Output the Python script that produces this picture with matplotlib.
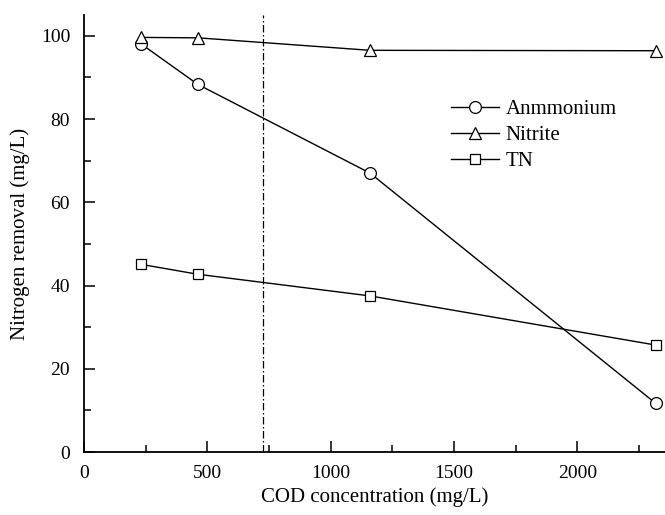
import numpy as np
import matplotlib.pyplot as plt
from matplotlib.ticker import MultipleLocator

plt.rcParams['font.family'] = ['Liberation Serif', 'DejaVu Serif']

cod = [230, 462, 1160, 2318]
ammonium = [98.1, 88.3, 67.0, 11.7]
nitrite = [99.6, 99.5, 96.5, 96.4]
tn = [45.1, 42.7, 37.5, 25.7]
cod_marker_line = 727

fig = plt.figure(figsize=(6.65, 5.15), dpi=100)
ax = fig.add_axes([0.1263, 0.1223, 0.8737, 0.8487])

series = [('Anmmonium', ammonium, 'o'), ('Nitrite', nitrite, '^'), ('TN', tn, 's')]
for name, vals, mk in series:
    ms = 8.5 if mk != 's' else 7.5
    ax.plot(cod, vals, color='black', lw=1.0, marker=mk, ms=ms,
            mfc='white', mec='black', mew=0.9, clip_on=False, zorder=3, label=name)

ax.axvline(cod_marker_line, color='black', lw=0.9, linestyle=(0, (6, 2, 1.2, 2)))

ax.set_xlim(0, 2356)
ax.set_ylim(0, 105)
ax.xaxis.set_major_locator(MultipleLocator(500))
ax.xaxis.set_minor_locator(MultipleLocator(250))
ax.yaxis.set_major_locator(MultipleLocator(20))
ax.yaxis.set_minor_locator(MultipleLocator(10))
ax.tick_params(which='both', direction='in', top=False, right=False, labelsize=14, width=1.1)
ax.tick_params(which='major', length=8)
ax.tick_params(which='minor', length=5)
ax.tick_params(axis='x', which='major', pad=9)
ax.tick_params(axis='y', which='major', pad=10)
for side in ['top', 'right']:
    ax.spines[side].set_visible(False)
for side in ['left', 'bottom']:
    ax.spines[side].set_linewidth(1.3)

ax.set_xlabel('COD concentration (mg/L)', fontsize=15, labelpad=4)
ax.set_ylabel('Nitrogen removal (mg/L)', fontsize=15, labelpad=8)

ax.legend(loc='upper left', bbox_to_anchor=(0.6, 0.85), frameon=False, fontsize=15,
          handlelength=2.3, handletextpad=0.3, labelspacing=0.32)

fig.savefig('out.png', dpi=100)
